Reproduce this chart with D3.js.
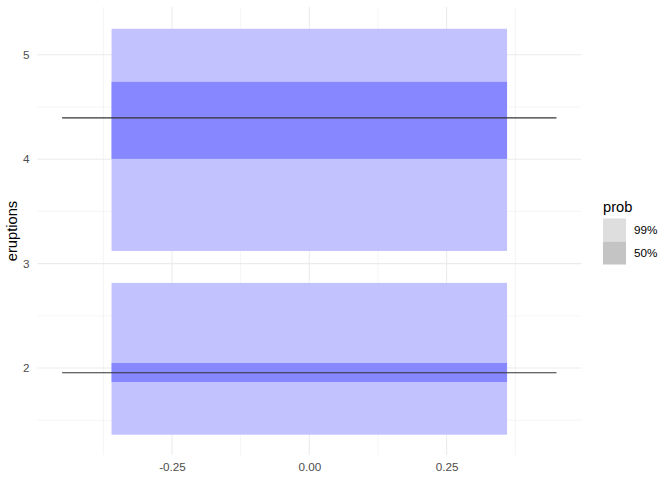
<!DOCTYPE html>
<html>
<head>
<meta charset="utf-8">
<script src="https://cdn.jsdelivr.net/npm/d3@7"></script>
<style>
body { margin: 0; background: #fff; }
text { font-family: "Liberation Sans", Arial, sans-serif; }
</style>
</head>
<body>
<svg id="chart" width="672" height="480"></svg>
<script>
// Data: HDR intervals of eruptions
const probLevels = ["99%", "50%"];
const hdr99Lower = [3.121, 1.361];
const hdr99Upper = [5.249, 2.815];
const hdr50Lower = [4.003, 1.866];
const hdr50Upper = [4.741, 2.048];
const modes = [4.396, 1.955];
const xTicks = [-0.25, 0, 0.25];
const yTicks = [2, 3, 4, 5];

const svg = d3.select("#chart");
const panel = { left: 37.4, right: 581.2, top: 8.5, bottom: 455 };

const x = d3.scaleLinear().domain([-0.495, 0.495]).range([panel.left, panel.right]);
const yMin = d3.min(hdr99Lower), yMax = d3.max(hdr99Upper);
const pad = (yMax - yMin) * 0.05;
const y = d3.scaleLinear().domain([yMin - pad, yMax + pad]).range([panel.bottom, panel.top]);

const g = svg.append("g");
const gridTop = 7;

// minor grid
const xMinor = [-0.375, -0.125, 0.125, 0.375];
const yMinor = [1.5, 2.5, 3.5, 4.5];
g.selectAll(".xminor").data(xMinor).join("line")
  .attr("x1", d => x(d)).attr("x2", d => x(d))
  .attr("y1", gridTop).attr("y2", panel.bottom)
  .attr("stroke", "#ebebeb").attr("stroke-width", 0.55);
g.selectAll(".yminor").data(yMinor).join("line")
  .attr("y1", d => y(d)).attr("y2", d => y(d))
  .attr("x1", panel.left).attr("x2", panel.right)
  .attr("stroke", "#ebebeb").attr("stroke-width", 0.55);
// major grid
g.selectAll(".xmajor").data(xTicks).join("line")
  .attr("x1", d => x(d)).attr("x2", d => x(d))
  .attr("y1", gridTop).attr("y2", panel.bottom)
  .attr("stroke", "#ebebeb").attr("stroke-width", 1.07);
g.selectAll(".ymajor").data(yTicks).join("line")
  .attr("y1", d => y(d)).attr("y2", d => y(d))
  .attr("x1", panel.left).attr("x2", panel.right)
  .attr("stroke", "#ebebeb").attr("stroke-width", 1.07);

const boxHalf = 0.36, lineHalf = 0.45;
// 99% boxes
g.selectAll(".b99").data(d3.range(hdr99Lower.length)).join("rect")
  .attr("x", x(-boxHalf)).attr("width", x(boxHalf) - x(-boxHalf))
  .attr("y", i => y(hdr99Upper[i])).attr("height", i => y(hdr99Lower[i]) - y(hdr99Upper[i]))
  .attr("fill", "#c2c2ff");
// 50% boxes
g.selectAll(".b50").data(d3.range(hdr50Lower.length)).join("rect")
  .attr("x", x(-boxHalf)).attr("width", x(boxHalf) - x(-boxHalf))
  .attr("y", i => y(hdr50Upper[i])).attr("height", i => y(hdr50Lower[i]) - y(hdr50Upper[i]))
  .attr("fill", "#8787ff");
// modes
g.selectAll(".mode").data(modes).join("line")
  .attr("x1", x(-lineHalf)).attr("x2", x(lineHalf))
  .attr("y1", d => y(d)).attr("y2", d => y(d))
  .attr("stroke", "#333").attr("stroke-width", 1.1);

// axes
const xAxis = d3.axisBottom(x).tickValues(xTicks).tickFormat(d3.format(".2f")).tickSize(0).tickPadding(0);
const xa = svg.append("g").attr("transform", `translate(0,${panel.bottom})`).call(xAxis);
xa.select(".domain").remove();
xa.selectAll("text").attr("y", 8).attr("dy", "0.71em").attr("fill", "#4d4d4d").attr("font-size", "11.7px")
  .text(d => d3.format(".2f")(d).replace("−", "-"));

const yAxis = d3.axisLeft(y).tickValues(yTicks).tickFormat(d3.format("d")).tickSize(0).tickPadding(0);
const ya = svg.append("g").attr("transform", `translate(${panel.left},0)`).call(yAxis);
ya.select(".domain").remove();
ya.selectAll("text").attr("x", -8).attr("dy", "0.32em").attr("fill", "#4d4d4d").attr("font-size", "11.7px");

svg.append("text").attr("transform", `translate(16.5,${(gridTop + panel.bottom) / 2}) rotate(-90)`)
  .attr("text-anchor", "middle").attr("font-size", "14.7px").attr("fill", "#000").text("eruptions");

// legend
const legendColors = ["#dedede", "#c4c4c4"];
const lg = svg.append("g").attr("transform", "translate(603,0)");
lg.append("text").attr("x", 0).attr("y", 212).attr("font-size", "14.7px").text("prob");
lg.selectAll("rect").data(probLevels).join("rect")
  .attr("x", 0).attr("y", (d, i) => 218.5 + i * 23).attr("width", 23).attr("height", 23)
  .attr("fill", (d, i) => legendColors[i]);
lg.selectAll(".lab").data(probLevels).join("text")
  .attr("x", 31).attr("y", (d, i) => 230 + i * 23).attr("dy", "0.35em")
  .attr("font-size", "11.7px").attr("fill", "#000").text(d => d);
</script>
</body>
</html>
